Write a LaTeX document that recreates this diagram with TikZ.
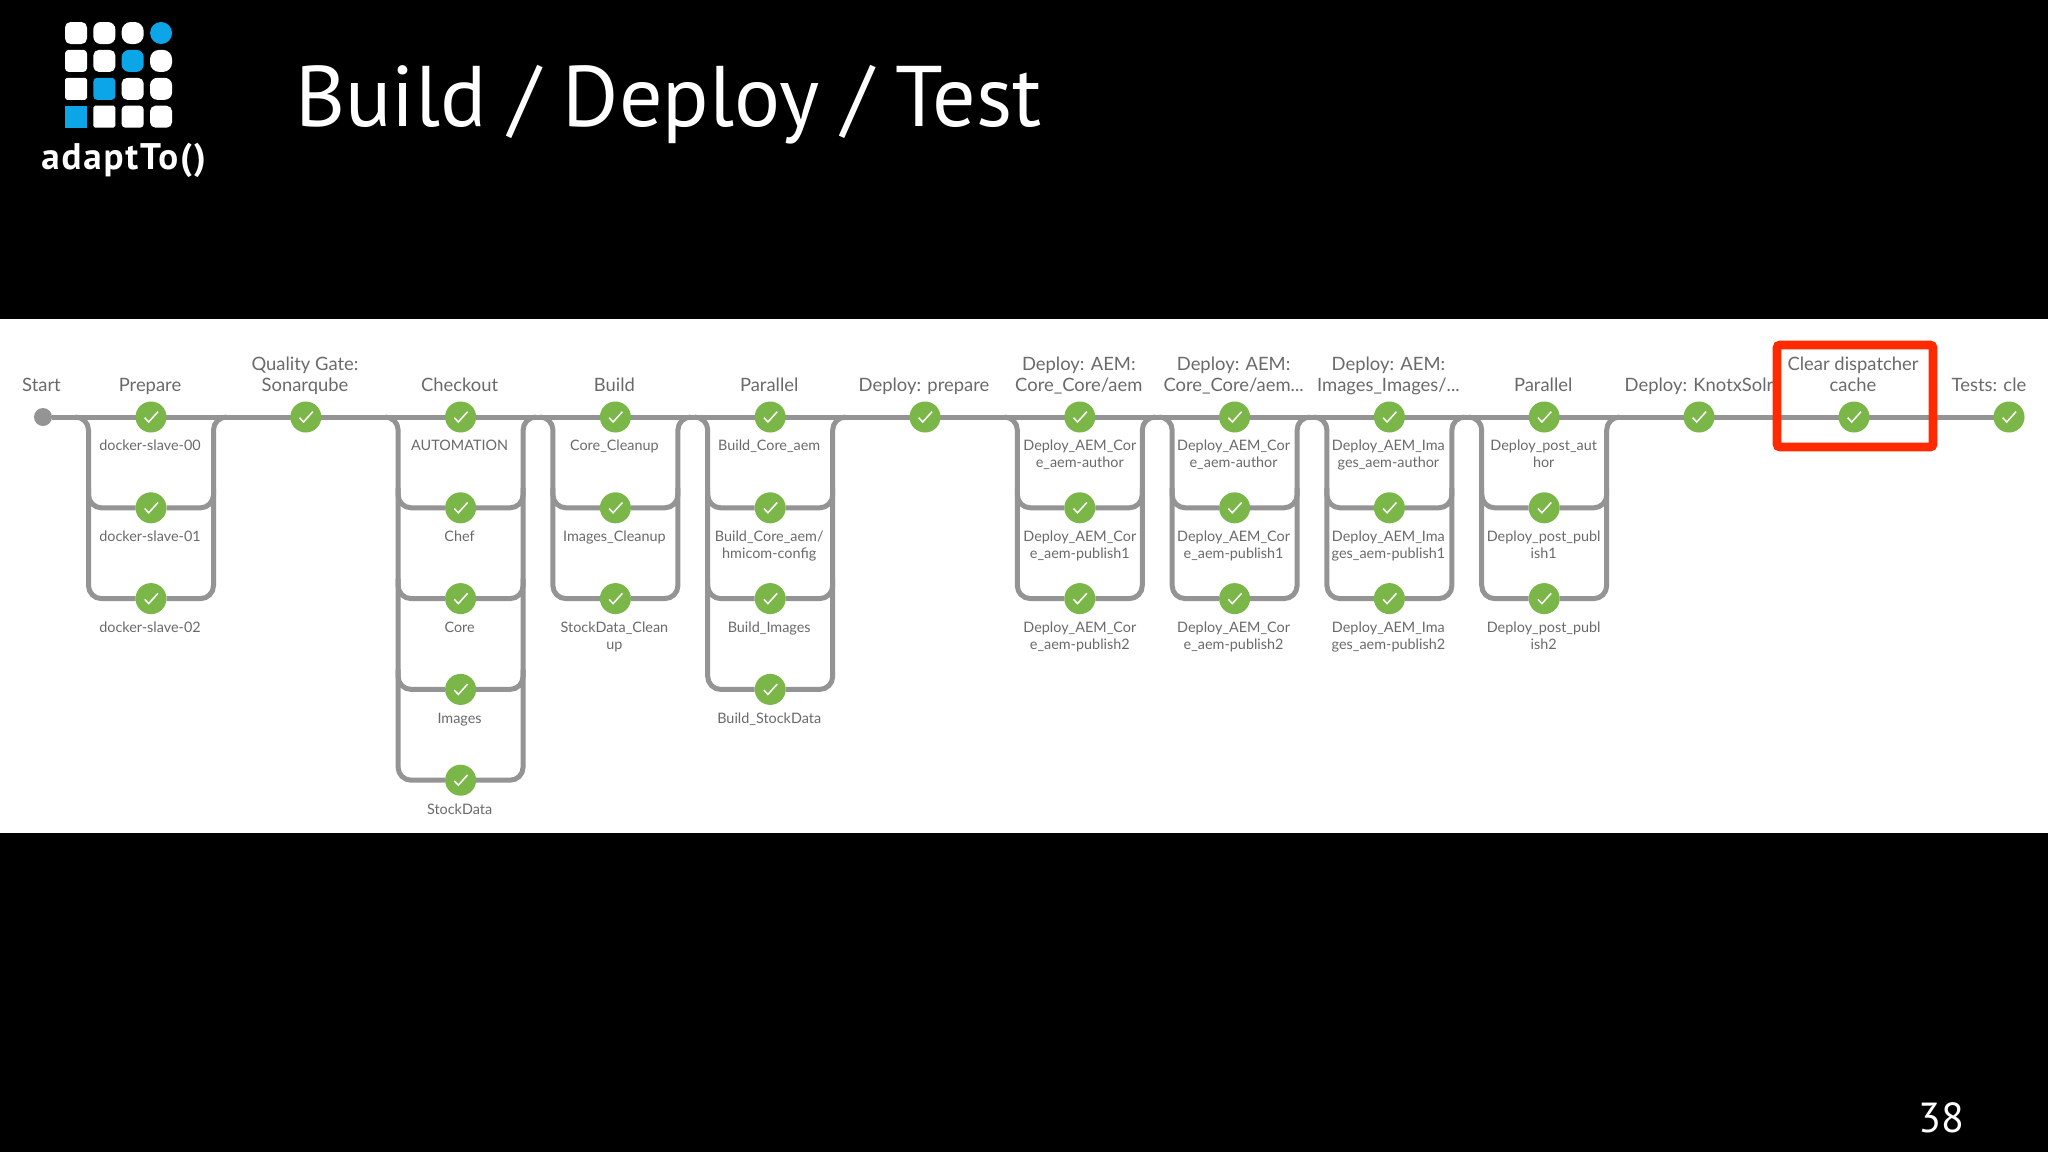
\documentclass[tikz,border=0pt]{standalone}
\usepackage{fontspec}
\setmainfont{Lato}
\newfontfamily\titlefont{PT Sans}
\newfontfamily\logofont[LetterSpace=5]{PT Sans}
\usetikzlibrary{calc}
\pgfdeclarelayer{bg}
\pgfdeclarelayer{pipes}
\pgfsetlayers{bg,pipes,main}
\definecolor{okgreen}{HTML}{7AB648}
\definecolor{pipegray}{HTML}{949494}
\definecolor{labgray}{HTML}{6A6A6A}
\definecolor{logoblue}{HTML}{0CA6E8}
\definecolor{redbox}{HTML}{FF2A00}
\tikzset{
  okstep/.style={circle,fill=okgreen,minimum size=15.5pt,inner sep=0pt,outer sep=0pt},
  pipe/.style={draw=pipegray,line width=2.5pt,rounded corners=6.5pt},
  toplab/.style={anchor=base,align=center,text=labgray,font=\fontsize{9.2}{10.3}\selectfont,inner sep=0pt},
  sublab/.style={anchor=base,align=center,text=labgray,font=\fontsize{7.2}{8.5}\selectfont,inner sep=0pt},
  checkline/.style={draw=white,line width=0.75pt},
  startdot/.style={circle,fill=pipegray,minimum size=9pt,inner sep=0pt,outer sep=0pt},
  redframe/.style={draw=redbox,line width=4.4pt,rounded corners=1.5pt},
}
\newcommand\okrow[3]{%
  \node[okstep] (#1) at (#2,#3) {};
  \draw[checkline] ($(#2,#3)+(-6.3,0.7)$) -- ($(#2,#3)+(-2.3,5)$) -- ($(#2,#3)+(7,-5.3)$);
}
\newcommand\sublabel[4]{\node[sublab] (#1) at (#2,#3) {#4};}
\newcommand\toplabel[4]{\node[toplab] (#1) at (#2,#3) {#4};}
\newcommand\branch[2]{%
  \begin{pgfonlayer}{pipes}
    \draw[pipe] ($(#1)+(-75.5,0)$) -| ($(#1r#2)+(-62.5,0)$) -- (#1r#2);
    \draw[pipe] (#1r#2) -| ($(#1)+(62.5,0)$) -- ($(#1)+(75.5,0)$);
  \end{pgfonlayer}}
\newcommand\midbranch[1]{%
  \begin{pgfonlayer}{pipes}
    \draw[pipe] ($(#1)+(-62.5,-20)$) |- (#1) -| ($(#1)+(62.5,-20)$);
  \end{pgfonlayer}}
\begin{document}
\begin{tikzpicture}[x=0.5pt,y=-0.5pt]
\useasboundingbox (0,0) rectangle (2048,1152);
\begin{pgfonlayer}{bg}
  \fill[black] (0,0) rectangle (2048,1152);
  \fill[white] (0,319) rectangle (2048,833);
\end{pgfonlayer}

% logo
\foreach \c in {0,1,2,3}{\foreach \r in {0,1,2,3}{
  \pgfmathsetmacro\rad{(\c+3-\r)/6*5.5}
  \pgfmathtruncatemacro\blue{(\c+\r==3)?1:0}
  \pgfmathsetmacro\xx{76+28.35*\c}
  \pgfmathsetmacro\yy{33+27.9*\r}
  \ifnum\blue=1 \def\lc{logoblue}\else\def\lc{white}\fi
  \ifdim\rad pt>0pt
    \fill[\lc,rounded corners=\rad pt] (\xx-11,\yy-11) rectangle (\xx+11,\yy+11);
  \else
    \fill[\lc] (\xx-11,\yy-11) rectangle (\xx+11,\yy+11);
  \fi
}}
\node[anchor=base west,inner sep=0pt,text=white,font=\logofont\bfseries\fontsize{18.5}{22}\selectfont] (logotext) at (41,169) {adaptTo()};

% title and page number
\node[anchor=base west,inner sep=0pt,text=white,font=\titlefont\fontsize{43}{50}\selectfont] (title) at (295,126) {Build / Deploy / Test};
\node[anchor=base east,inner sep=0pt,text=white,font=\titlefont\fontsize{21}{25}\selectfont] (pagenum) at (1965,1132) {38};

% stages
\node[startdot] (start) at (43,417) {};
\toplabel{lstart}{41.5}{391}{Start}

\okrow{a}{151}{417}\okrow{ar2}{151}{507.8}\okrow{ar3}{151}{598.6}
\toplabel{la}{150}{391}{Prepare}
\sublabel{la1}{150}{450}{docker-slave-00}
\sublabel{la2}{150}{541}{docker-slave-01}
\sublabel{la3}{150}{632}{docker-slave-02}

\okrow{b}{305.8}{417}
\toplabel{lb}{305}{391}{Quality Gate:\\Sonarqube}

\okrow{c}{460.6}{417}\okrow{cr2}{460.6}{507.8}\okrow{cr3}{460.6}{598.6}\okrow{cr4}{460.6}{689.4}\okrow{cr5}{460.6}{780.2}
\toplabel{lc}{459.6}{391}{Checkout}
\sublabel{lc1}{459.6}{450}{AUTOMATION}
\sublabel{lc2}{459.6}{541}{Chef}
\sublabel{lc3}{459.6}{632}{Core}
\sublabel{lc4}{459.6}{723}{Images}
\sublabel{lc5}{459.6}{814}{StockData}

\okrow{d}{615.4}{417}\okrow{dr2}{615.4}{507.8}\okrow{dr3}{615.4}{598.6}
\toplabel{ld}{614.4}{391}{Build}
\sublabel{ld1}{614.4}{450}{Core\_Cleanup}
\sublabel{ld2}{614.4}{541}{Images\_Cleanup}
\sublabel{ld3}{614.4}{649}{StockData\_Clean\\up}

\okrow{e}{770.2}{417}\okrow{er2}{770.2}{507.8}\okrow{er3}{770.2}{598.6}\okrow{er4}{770.2}{689.4}
\toplabel{le}{769.2}{391}{Parallel}
\sublabel{le1}{769.2}{450}{Build\_Core\_aem}
\sublabel{le2}{769.2}{558}{Build\_Core\_aem/\\hmicom-config}
\sublabel{le3}{769.2}{632}{Build\_Images}
\sublabel{le4}{769.2}{723}{Build\_StockData}

\okrow{f}{925}{417}
\toplabel{lf}{924}{391}{Deploy: prepare}

\okrow{g}{1079.8}{417}\okrow{gr2}{1079.8}{507.8}\okrow{gr3}{1079.8}{598.6}
\toplabel{lg}{1078.8}{391}{Deploy: AEM:\\Core\_Core/aem}
\sublabel{lg1}{1079.8}{467}{Deploy\_AEM\_Cor\\e\_aem-author}
\sublabel{lg2}{1079.8}{558}{Deploy\_AEM\_Cor\\e\_aem-publish1}
\sublabel{lg3}{1079.8}{649}{Deploy\_AEM\_Cor\\e\_aem-publish2}

\okrow{h}{1234.6}{417}\okrow{hr2}{1234.6}{507.8}\okrow{hr3}{1234.6}{598.6}
\toplabel{lh}{1233.6}{391}{Deploy: AEM:\\Core\_Core/aem...}
\sublabel{lh1}{1233.6}{467}{Deploy\_AEM\_Cor\\e\_aem-author}
\sublabel{lh2}{1233.6}{558}{Deploy\_AEM\_Cor\\e\_aem-publish1}
\sublabel{lh3}{1233.6}{649}{Deploy\_AEM\_Cor\\e\_aem-publish2}

\okrow{i}{1389.4}{417}\okrow{ir2}{1389.4}{507.8}\okrow{ir3}{1389.4}{598.6}
\toplabel{li}{1388.4}{391}{Deploy: AEM:\\Images\_Images/...}
\sublabel{li1}{1388.4}{467}{Deploy\_AEM\_Ima\\ges\_aem-author}
\sublabel{li2}{1388.4}{558}{Deploy\_AEM\_Ima\\ges\_aem-publish1}
\sublabel{li3}{1388.4}{649}{Deploy\_AEM\_Ima\\ges\_aem-publish2}

\okrow{j}{1544.2}{417}\okrow{jr2}{1544.2}{507.8}\okrow{jr3}{1544.2}{598.6}
\toplabel{lj}{1543.2}{391}{Parallel}
\sublabel{lj1}{1543.7}{467}{Deploy\_post\_aut\\hor}
\sublabel{lj2}{1543.7}{558}{Deploy\_post\_publ\\ish1}
\sublabel{lj3}{1543.7}{649}{Deploy\_post\_publ\\ish2}

\okrow{k}{1699}{417}
\toplabel{lk}{1699}{391}{Deploy: KnotxSolr}

\okrow{m}{1854}{417}
\toplabel{lm}{1853}{391}{Clear dispatcher\\cache}

\okrow{n}{2009}{417}
\toplabel{ln}{1989}{391}{Tests: cle}

% connectors
\begin{pgfonlayer}{pipes}
  \draw[pipe] (start) -- (n);
\end{pgfonlayer}
\foreach \s/\last in {a/3,c/5,d/3,e/4,g/3,h/3,i/3,j/3}{\branch{\s}{\last}}
\foreach \s in {ar2,cr2,cr3,cr4,dr2,er2,er3,gr2,hr2,ir2,jr2}{\midbranch{\s}}

% highlight
\draw[redframe] (1777,345) rectangle (1933,447);
\end{tikzpicture}
\end{document}
